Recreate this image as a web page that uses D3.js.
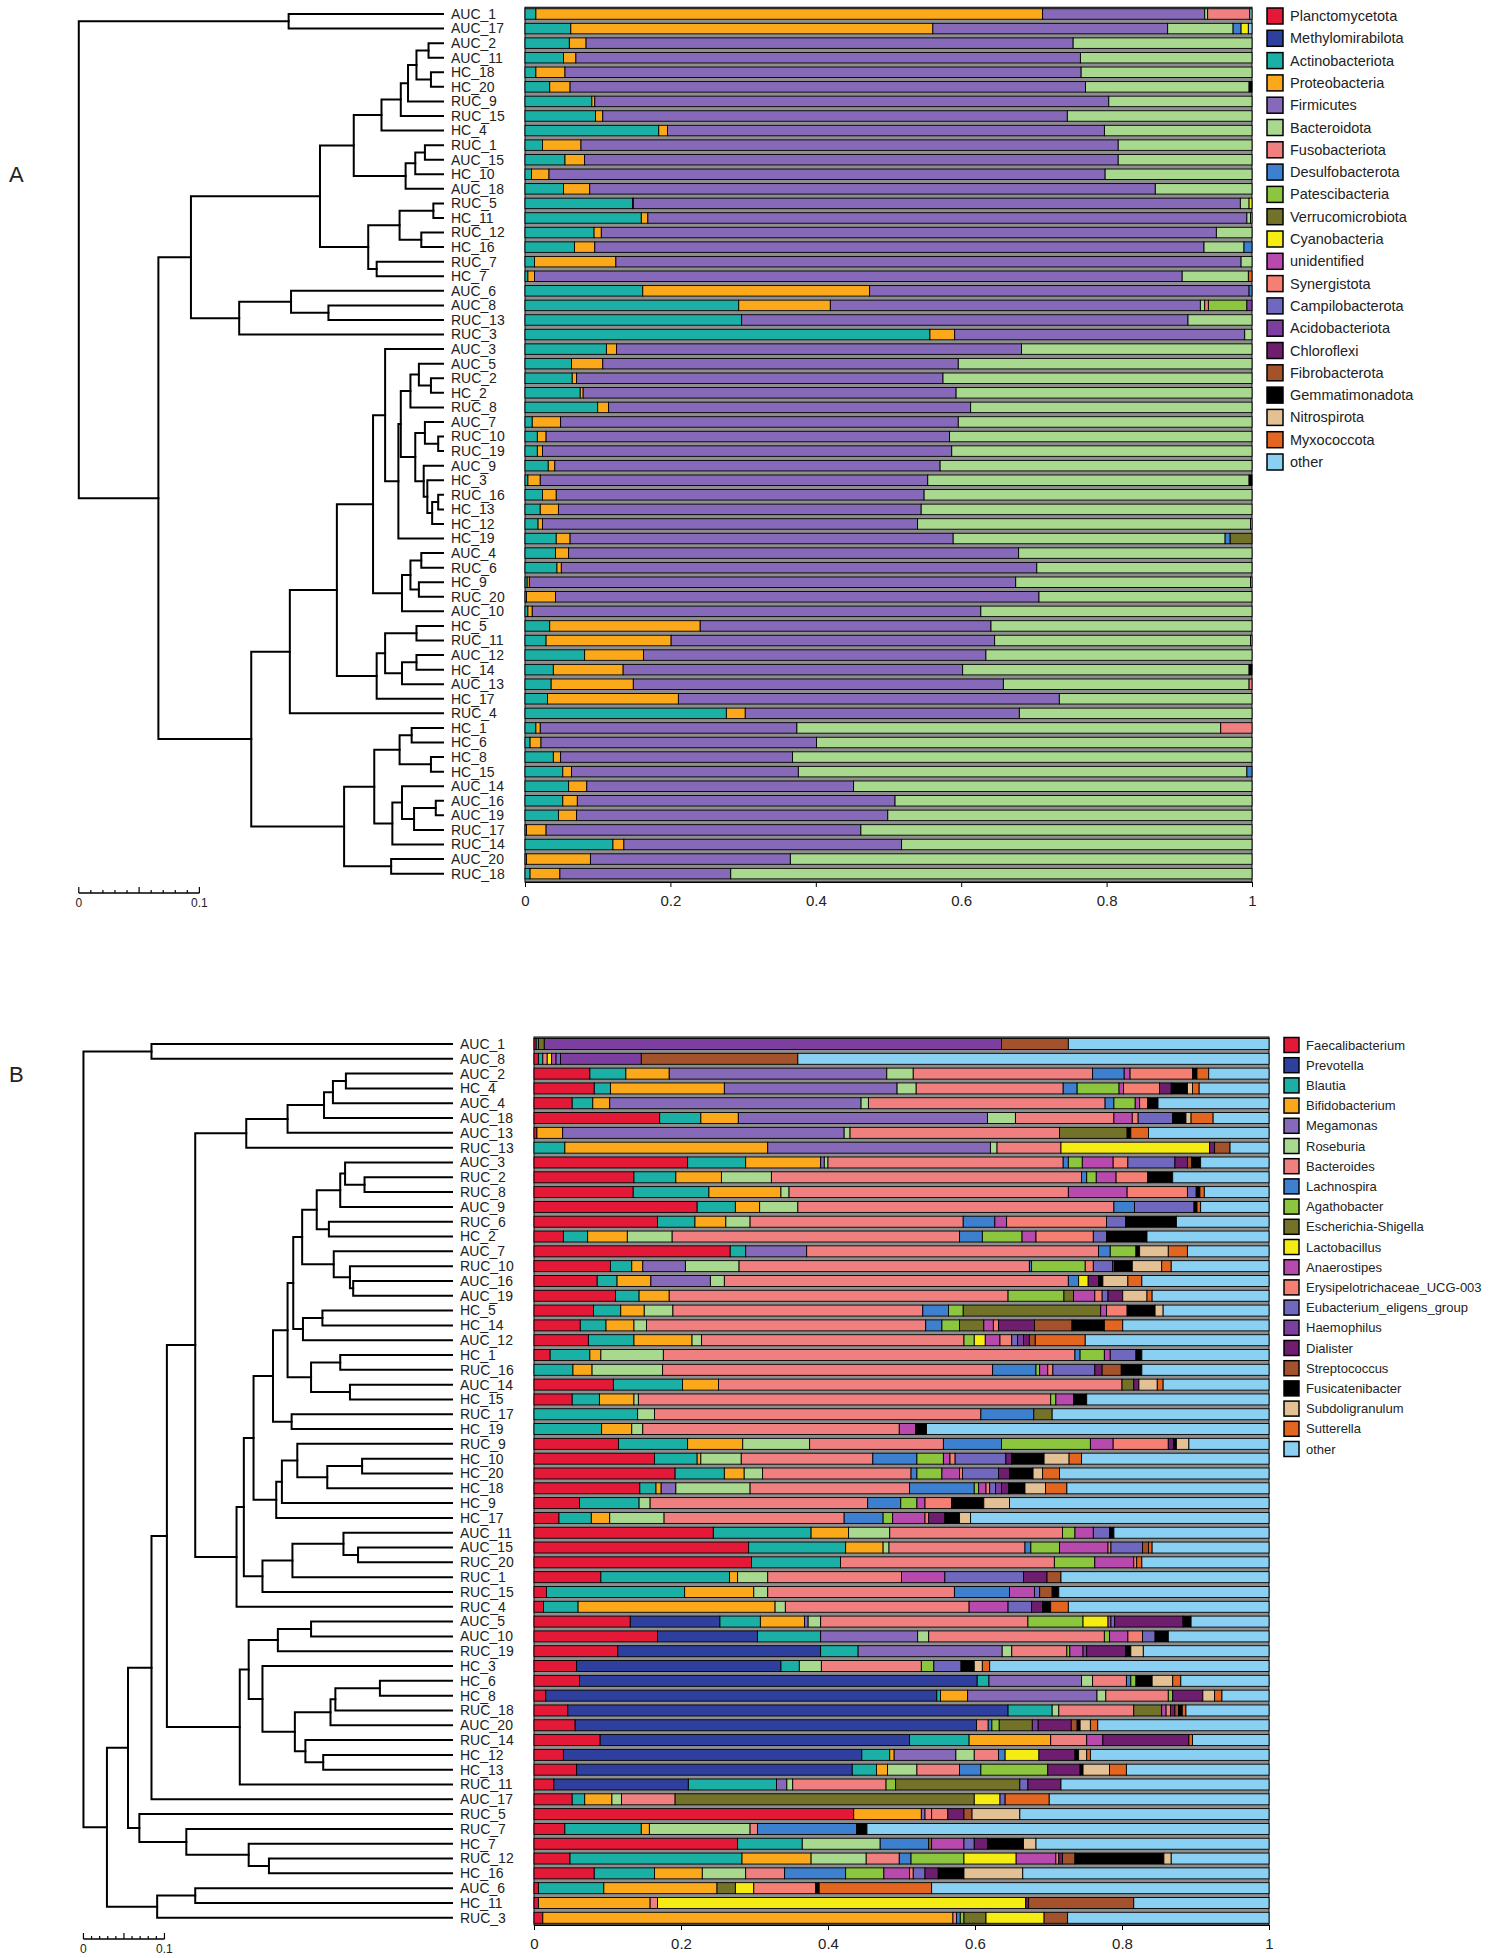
<!DOCTYPE html>
<html lang="en">
<head>
<meta charset="utf-8">
<title>Community composition dendrograms</title>
<script src="https://cdn.jsdelivr.net/npm/d3@7"></script>
<style>
  body { margin: 0; background: #fff; font-family: "Liberation Sans", Arial, sans-serif; }
  text { fill: #222; }
</style>
</head>
<body>
<script>
// ---- data ----
var palette = ["#e31937", "#2e3f9e", "#1bb0a6", "#fba81b", "#8669b8", "#a8d98f", "#f08080",
  "#3d80cf", "#8cc63f", "#727228", "#f5ec13", "#b84aad", "#f47f72", "#7068bf", "#7c3f9f",
  "#6e1d6f", "#a4522b", "#000000", "#e3c195", "#e2661f", "#8ad0f2"];

var taxaA = ["Planctomycetota", "Methylomirabilota", "Actinobacteriota", "Proteobacteria", "Firmicutes",
  "Bacteroidota", "Fusobacteriota", "Desulfobacterota", "Patescibacteria", "Verrucomicrobiota",
  "Cyanobacteria", "unidentified", "Synergistota", "Campilobacterota", "Acidobacteriota", "Chloroflexi",
  "Fibrobacterota", "Gemmatimonadota", "Nitrospirota", "Myxococcota", "other"];

var taxaB = ["Faecalibacterium", "Prevotella", "Blautia", "Bifidobacterium", "Megamonas", "Roseburia",
  "Bacteroides", "Lachnospira", "Agathobacter", "Escherichia-Shigella", "Lactobacillus", "Anaerostipes",
  "Erysipelotrichaceae_UCG-003", "Eubacterium_eligens_group", "Haemophilus", "Dialister",
  "Streptococcus", "Fusicatenibacter", "Subdoligranulum", "Sutterella", "other"];

var axisTicks = [0, 0.2, 0.4, 0.6, 0.8, 1];

var samplesA = ["AUC_1", "AUC_17", "AUC_2", "AUC_11", "HC_18", "HC_20", "RUC_9", "RUC_15", "HC_4", "RUC_1",
  "AUC_15", "HC_10", "AUC_18", "RUC_5", "HC_11", "RUC_12", "HC_16", "RUC_7", "HC_7", "AUC_6", "AUC_8",
  "RUC_13", "RUC_3", "AUC_3", "AUC_5", "RUC_2", "HC_2", "RUC_8", "AUC_7", "RUC_10", "RUC_19", "AUC_9",
  "HC_3", "RUC_16", "HC_13", "HC_12", "HC_19", "AUC_4", "RUC_6", "HC_9", "RUC_20", "AUC_10", "HC_5",
  "RUC_11", "AUC_12", "HC_14", "AUC_13", "HC_17", "RUC_4", "HC_1", "HC_6", "HC_8", "HC_15", "AUC_14",
  "AUC_16", "AUC_19", "RUC_17", "RUC_14", "AUC_20", "RUC_18"];

// relative abundance per sample, columns in taxaA order (trailing zeros left out)
var valuesA = [
  [0,0,.015,.697,.223,.004,.058,0,0,0,0,0,0,0,0,0,0,0,0,0,.003],
  [0,0,.063,.498,.323,.090,0,.011,0,0,.010,0,0,0,0,0,0,0,0,0,.005],
  [0,0,.061,.023,.670,.246],
  [0,0,.053,.017,.694,.236],
  [0,0,.015,.040,.710,.235],
  [0,0,.034,.028,.709,.225,0,0,0,0,0,0,0,0,0,0,0,.004],
  [0,0,.092,.004,.707,.197],
  [0,0,.097,.010,.639,.254],
  [0,0,.184,.012,.601,.203],
  [0,0,.024,.053,.739,.184],
  [0,0,.055,.027,.734,.184],
  [0,0,.009,.024,.765,.202],
  [0,0,.053,.036,.778,.133],
  [0,0,.148,.001,.835,.012,0,0,0,0,.004],
  [0,0,.160,.009,.824,.005,0,0,0,0,0,0,0,0,0,0,0,0,0,0,.002],
  [0,0,.095,.010,.846,.049],
  [0,0,.068,.028,.838,.055,0,.011],
  [0,0,.013,.112,.860,.015],
  [0,0,.004,.009,.891,.091,0,0,0,0,0,0,0,0,0,0,0,0,0,.005],
  [0,0,.162,.312,.522,0,0,.004],
  [0,0,.294,.126,.509,.006,.005,0,.053,0,0,0,0,0,.007],
  [0,0,.298,0,.614,.088],
  [0,0,.557,.034,.399,.010],
  [0,0,.112,.014,.557,.317],
  [0,0,.064,.043,.489,.404],
  [0,0,.065,.006,.504,.425],
  [0,0,.076,.004,.513,.407],
  [0,0,.100,.015,.498,.387],
  [0,0,.010,.039,.547,.404],
  [0,0,.017,.012,.555,.416],
  [0,0,.017,.007,.563,.413],
  [0,0,.032,.009,.530,.429],
  [0,0,.004,.017,.533,.442,0,0,0,0,0,0,0,0,0,0,0,.004],
  [0,0,.024,.019,.506,.451],
  [0,0,.021,.025,.499,.455],
  [0,0,.018,.006,.516,.458,0,0,0,0,0,0,0,0,0,0,0,0,0,0,.002],
  [0,0,.043,.019,.527,.374,0,.007,0,.030],
  [0,0,.042,.018,.619,.321],
  [0,0,.044,.006,.654,.296],
  [0,0,.003,.003,.669,.323,0,0,0,0,0,0,0,0,0,0,0,0,0,0,.002],
  [0,0,.002,.040,.665,.293],
  [0,0,.004,.006,.617,.373],
  [0,0,.034,.207,.400,.359],
  [0,0,.029,.172,.445,.352,0,0,0,0,0,0,0,0,0,0,0,0,0,0,.002],
  [0,0,.082,.081,.471,.366],
  [0,0,.039,.096,.467,.394,0,0,0,0,0,0,0,0,0,0,0,.004],
  [0,0,.036,.113,.509,.338,.004],
  [0,0,.031,.180,.524,.265],
  [0,0,.277,.026,.377,.320],
  [0,0,.015,.006,.353,.583,.043],
  [0,0,.007,.015,.379,.599],
  [0,0,.039,.010,.319,.632],
  [0,0,.052,.012,.312,.617,0,.007],
  [0,0,.060,.025,.367,.548],
  [0,0,.052,.020,.437,.491],
  [0,0,.046,.025,.428,.501],
  [0,0,.002,.027,.433,.538],
  [0,0,.121,.015,.382,.482],
  [0,0,.002,.088,.275,.635],
  [0,0,.007,.041,.235,.717]
];

// tree: [height, child, child, ...], leaves are sample names
var treeA = [0.302,
  [0.128, "AUC_1", "AUC_17"],
  [0.236,
    [0.209,
      [0.102,
        [0.074,
          [0.051,
            [0.035,
              [0.029,
                [0.022, [0.012, "AUC_2", "AUC_11"], [0.010, "HC_18", "HC_20"]],
                "RUC_9"],
              "RUC_15"],
            "HC_4"],
          [0.031,
            [0.023, [0.015, "RUC_1", "AUC_15"], "HC_10"],
            "AUC_18"]],
        [0.062,
          [0.036, [0.008, "RUC_5", "HC_11"], [0.018, "RUC_12", "HC_16"]],
          [0.055, "RUC_7", "HC_7"]]],
      [0.169,
        [0.126, "AUC_6", [0.095, "AUC_8", "RUC_13"]],
        "RUC_3"]],
    [0.159,
      [0.127,
        [0.088,
          [0.058,
            [0.048,
              "AUC_3",
              [0.037,
                [0.035,
                  [0.027, [0.020, "AUC_5", [0.010, "RUC_2", "HC_2"]], "RUC_8"],
                  [0.023,
                    [0.015, "AUC_7", [0.004, "RUC_10", "RUC_19"]],
                    [0.016, "AUC_9", [0.013, "HC_3", [0.009, [0.004, "RUC_16", "HC_13"], "HC_12"]]]]],
                "HC_19"]],
            [0.034,
              [0.027, [0.018, "AUC_4", "RUC_6"], [0.020, "HC_9", "RUC_20"]],
              "AUC_10"]],
          [0.055,
            [0.048,
              [0.022, "HC_5", "RUC_11"],
              [0.034, [0.022, "AUC_12", "HC_14"], "AUC_13"]],
            "HC_17"]],
        "RUC_4"],
      [0.082,
        [0.057,
          [0.036, [0.026, "HC_1", "HC_6"], [0.010, "HC_8", "HC_15"]],
          [0.042, [0.034, "AUC_14", [0.024, [0.006, "AUC_16", "AUC_19"], "RUC_17"]], "RUC_14"]],
        [0.043, "AUC_20", "RUC_18"]]]]];

var samplesB = ["AUC_1", "AUC_8", "AUC_2", "HC_4", "AUC_4", "AUC_18", "AUC_13", "RUC_13", "AUC_3", "RUC_2",
  "RUC_8", "AUC_9", "RUC_6", "HC_2", "AUC_7", "RUC_10", "AUC_16", "AUC_19", "HC_5", "HC_14", "AUC_12",
  "HC_1", "RUC_16", "AUC_14", "HC_15", "RUC_17", "HC_19", "RUC_9", "HC_10", "HC_20", "HC_18", "HC_9",
  "HC_17", "AUC_11", "AUC_15", "RUC_20", "RUC_1", "RUC_15", "RUC_4", "AUC_5", "AUC_10", "RUC_19", "HC_3",
  "HC_6", "HC_8", "RUC_18", "AUC_20", "RUC_14", "HC_12", "HC_13", "RUC_11", "AUC_17", "RUC_5", "RUC_7",
  "HC_7", "RUC_12", "HC_16", "AUC_6", "HC_11", "RUC_3"];

// columns in taxaB order
var valuesB = [
  [.003,0,.003,0,0,0,0,0,0,.008,0,0,0,0,.622,0,.091,0,0,0,.273],
  [.006,0,.006,0,0,0,.006,0,0,0,.006,.006,0,.006,.110,0,.213,0,0,0,.641],
  [.076,0,.049,.059,.296,.036,.244,.043,0,0,0,.008,.085,0,0,0,0,.006,0,.016,.082],
  [.082,0,.022,.155,.235,.026,.200,.019,.057,0,0,.006,.049,0,0,.016,0,.022,.007,.009,.095],
  [.052,0,.028,.023,.342,.010,.322,.012,.029,0,0,.006,.011,0,0,0,0,.014,0,0,.151],
  [.171,0,.056,.051,.339,.038,.134,0,0,0,0,.025,.008,.047,0,0,0,.018,.007,.030,.076],
  [.004,0,0,.035,.383,.008,.285,0,0,.092,0,0,0,0,0,0,0,.005,0,.024,.164],
  [0,0,.042,.276,.303,.009,.087,0,0,0,.202,0,0,0,0,.007,.021,0,0,0,.053],
  [.209,0,.079,.102,.005,.005,.320,.007,.019,0,0,.042,.020,.064,0,.017,.006,.012,0,0,.093],
  [.136,0,.057,.062,0,.068,.422,.007,.013,0,0,.027,.043,0,0,0,0,.034,0,0,.131],
  [.135,0,.103,.098,0,.011,.380,0,0,0,0,.080,.082,.012,0,0,0,.005,0,.006,.088],
  [.222,0,.052,.033,0,.052,.430,.028,0,0,0,0,0,.081,0,0,0,.004,0,.005,.093],
  [.168,0,.051,.042,0,.033,.290,.043,0,0,0,.016,.136,.026,0,0,0,.069,0,0,.126],
  [.040,0,.033,.054,0,.061,.391,.031,.054,0,0,.019,.078,.018,0,0,0,.055,0,0,.166],
  [.267,0,.021,0,.083,0,.397,.016,.035,0,0,0,0,0,0,0,0,.005,.039,.026,.111],
  [.104,0,.029,.015,.058,.073,.395,.003,.073,0,0,0,.011,.026,0,.003,0,.024,.040,.013,.133],
  [.086,0,.027,.046,.081,.019,.468,.014,0,0,.013,0,0,0,0,.014,0,.006,.034,.019,.173],
  [.111,0,.032,.041,0,0,.461,0,.076,.013,0,.029,.010,.008,0,.020,0,0,.033,.007,.159],
  [.081,0,.037,.032,0,.039,.340,.035,.020,.187,0,.008,.028,0,0,0,0,.038,.011,0,.144],
  [.063,0,.035,.038,0,.017,.380,.022,.024,.033,0,.013,.007,0,0,.049,.051,.044,0,.025,.199],
  [.074,0,.062,.079,0,.013,.357,0,.014,0,.015,.020,.016,.008,.008,.008,.008,0,0,.068,.250],
  [.022,0,.054,.015,0,.085,.560,.007,.033,0,0,.008,0,.035,0,0,0,.008,0,0,.173],
  [0,0,.053,.026,0,.096,.449,.059,.005,0,0,.011,.007,.057,0,.010,.026,.028,0,0,.173],
  [.108,0,.094,.049,0,0,.549,0,0,.016,0,0,0,0,0,.007,0,0,.025,.008,.144],
  [.052,0,.037,.047,0,.006,.561,0,.007,0,0,.024,0,0,0,0,0,.018,0,0,.248],
  [0,0,.141,0,0,.023,.444,.072,0,.025,0,0,0,0,0,0,0,0,0,0,.295],
  [0,0,.092,.041,0,.015,.349,0,0,0,0,.022,0,0,0,0,0,.015,0,0,.466],
  [.115,0,.094,.075,0,.091,.182,.079,.121,0,0,.031,.075,0,0,.007,0,.004,.017,0,.109],
  [.164,0,.058,.005,0,.055,.179,.060,.036,0,0,.009,.007,.069,0,.008,0,.044,.034,.017,.255],
  [.192,0,.067,.027,0,.025,.202,.008,.034,0,0,.024,.004,.049,0,.015,0,.032,.013,.023,.285],
  [.144,0,.022,.007,.020,.101,.217,.088,.006,0,0,.010,.005,.008,.008,.010,0,.022,.028,.029,.275],
  [.062,0,.081,0,0,.015,.296,.045,.022,0,0,.011,.036,0,0,0,0,.044,.035,0,.353],
  [.034,0,.044,.025,0,.074,.245,.053,.013,0,0,.044,.005,0,0,.022,0,.020,.015,0,.406],
  [.244,0,.133,.051,0,.056,.235,0,.017,0,0,.025,0,.022,0,0,0,.006,0,0,.211],
  [.292,0,.132,.051,0,.008,.185,.008,.039,0,0,.066,.004,.043,0,0,.008,0,0,.005,.159],
  [.296,0,.121,0,0,0,.291,0,.055,0,0,.053,.004,0,0,0,0,0,0,.007,.173],
  [.091,0,.175,.011,0,.041,.182,0,0,0,0,.059,0,.107,0,.032,.019,0,0,0,.283],
  [.017,0,.188,.094,0,.019,.254,.075,0,0,0,.034,0,.007,0,0,.017,.009,0,0,.286],
  [.013,0,.047,.268,0,.014,.250,0,0,0,0,.053,0,.032,0,.015,0,.011,0,.024,.273],
  [.131,.122,.055,.060,.005,.017,.282,0,.075,0,.034,.004,0,.005,0,.093,0,.011,0,0,.106],
  [.168,.136,.086,0,.132,.015,.239,0,.007,0,0,.025,.020,.017,0,0,0,.018,0,0,.137],
  [.114,.276,.051,0,.196,.013,.075,0,.004,0,0,.018,0,0,.005,.053,0,.007,.017,0,.171],
  [.058,.278,.025,0,0,.030,.136,0,.017,0,0,0,0,.037,0,0,0,.018,.011,.010,.380],
  [.062,.541,.016,0,.126,.015,.046,.006,.007,0,0,0,0,0,0,0,0,.022,.028,.011,.120],
  [.016,.532,.005,.037,.176,.012,.085,0,.006,0,0,0,0,0,0,.041,0,0,.016,.010,.064],
  [.046,.599,.060,0,0,.009,.102,0,0,.038,0,.006,.006,0,0,.006,.005,.005,0,.005,.113],
  [.056,.546,0,0,0,0,.016,.005,.010,.045,0,0,0,0,.008,.045,.008,.004,.014,.010,.233],
  [.090,.421,.081,.111,0,0,.049,0,0,0,0,.022,0,0,0,.117,0,0,0,.005,.104],
  [.040,.406,.038,.006,.084,.025,.033,.009,0,0,.046,0,0,0,0,.049,0,.005,.011,.005,.243],
  [.058,.375,.033,.015,0,.040,.058,.029,.091,0,0,0,0,0,0,.044,0,.004,.036,.023,.194],
  [.027,.183,.120,0,.014,.008,.127,0,.013,.169,0,0,0,.011,0,.045,0,0,0,0,.283],
  [.052,0,.017,.037,0,.013,.073,0,0,.407,.035,0,0,.007,0,0,0,0,0,.060,.299],
  [.435,0,0,.092,.005,0,.009,0,0,0,0,0,.022,0,0,.022,.011,0,.065,0,.339],
  [.042,0,.104,.011,0,.137,.010,.135,0,0,0,0,0,0,0,0,0,.014,0,0,.547],
  [.277,0,.088,0,0,.106,0,.066,0,.004,0,.044,0,.014,0,.018,0,.049,.017,0,.317],
  [.049,0,.234,.094,0,.075,.045,.016,.072,0,.071,.054,.004,0,0,.005,.017,.121,.010,0,.133],
  [.082,0,.082,.065,0,.059,.053,.083,.052,0,0,.035,.005,.016,0,.018,0,.035,.080,0,.335],
  [.006,0,.089,.154,0,0,0,0,0,.025,.025,0,.084,0,0,0,0,.005,0,.153,.459],
  [.006,0,0,.152,0,0,.010,0,0,0,.501,0,0,0,0,.004,.143,0,0,0,.184],
  [.012,0,0,.558,0,0,.005,.005,.005,.030,.079,0,0,0,0,0,.032,0,0,0,.274]
];

var treeB = [0.455,
  [0.371, "AUC_1", "AUC_8"],
  [0.426,
    [0.400,
      [0.371,
        [0.352,
          [0.317,
            [0.254,
              [0.203,
                [0.158, [0.147, [0.131, "AUC_2", "HC_4"], "AUC_4"], "AUC_18"],
                "AUC_13"],
              "RUC_13"],
            [0.266,
              [0.257,
                [0.245,
                  [0.221,
                    [0.203,
                      [0.196,
                        [0.185,
                          [0.167,
                            [0.138, [0.132, "AUC_3", [0.108, "RUC_2", "RUC_8"]], "AUC_9"],
                            [0.152, "RUC_6", "HC_2"]],
                          [0.146, "AUC_7", [0.126, "RUC_10", [0.122, "AUC_16", "AUC_19"]]]],
                        [0.184, [0.160, "HC_5", "HC_14"], "AUC_12"]],
                      [0.174, [0.138, "HC_1", "RUC_16"], [0.126, "AUC_14", "HC_15"]]],
                    [0.198, "RUC_17", "HC_19"]],
                  [0.217,
                    [0.210,
                      [0.191, "RUC_9", [0.154, [0.111, "HC_10", "HC_20"], "HC_18"]],
                      "HC_9"],
                    "HC_17"]],
                [0.234,
                  [0.197, [0.134, "AUC_11", [0.116, "AUC_15", "RUC_20"]], "RUC_1"],
                  "RUC_15"]],
              "RUC_4"]],
          [0.262,
            [0.251,
              [0.215, [0.174, "AUC_5", "AUC_10"], "RUC_19"],
              [0.234, "HC_3",
                [0.194,
                  [0.150, [0.144, [0.089, "HC_6", "HC_8"], "RUC_18"], "AUC_20"],
                  [0.181, "RUC_14", [0.159, "HC_12", "HC_13"]]]]],
            "RUC_11"]],
        "AUC_17"],
      [0.386, "RUC_5", [0.328, "RUC_7", [0.251, "HC_7", [0.226, "RUC_12", "HC_16"]]]]],
    [0.364, [0.317, "AUC_6", "HC_11"], "RUC_3"]]];

// ---- drawing ----
var width = 1490, height = 1958;
var svg = d3.select("body").append("svg")
  .attr("width", width)
  .attr("height", height);

function drawPanel(p) {
  var g = svg.append("g");
  var n = p.samples.length;

  var y = d3.scalePoint()
    .domain(p.samples)
    .range([p.top, p.top + (n - 1) * p.pitch]);
  var x = d3.scaleLinear().domain([0, 1]).range([p.x0, p.x1]);

  var rows = p.values.map(function(v, i) { return { name: p.samples[i], v: v }; });
  var series = d3.stack()
    .keys(d3.range(p.taxa.length))
    .value(function(d, k) { return d.v[k] || 0; })
    .offset(d3.stackOffsetExpand)(rows);

  // grey frame behind the bars
  var bgTop = y(p.samples[0]) - p.barH / 2 - 1.5;
  g.append("rect")
    .attr("x", p.x0).attr("y", bgTop)
    .attr("width", p.x1 - p.x0).attr("height", p.axisY - bgTop)
    .attr("fill", "#8e8e8e")
    .attr("stroke", "#000").attr("stroke-width", 1);

  series.forEach(function(s) {
    g.append("g")
      .attr("fill", palette[s.key])
      .selectAll("rect")
      .data(s.filter(function(d) { return d[1] - d[0] > 0; }))
      .join("rect")
      .attr("x", function(d) { return x(d[0]); })
      .attr("width", function(d) { return x(d[1]) - x(d[0]); })
      .attr("y", function(d) { return y(d.data.name) - p.barH / 2; })
      .attr("height", p.barH)
      .attr("stroke", "#000")
      .attr("stroke-width", 0.9);
  });

  // x axis
  var ax = g.append("g")
    .attr("transform", "translate(0," + p.axisY + ")")
    .call(d3.axisBottom(x).tickValues(axisTicks).tickFormat(d3.format("~g"))
      .tickSize(5).tickSizeOuter(0).tickPadding(8));
  ax.attr("font-size", 15).attr("font-family", "Liberation Sans, Arial, sans-serif");
  ax.selectAll("text").attr("fill", "#222");

  // sample labels
  g.append("g").selectAll("text")
    .data(p.samples)
    .join("text")
    .attr("x", p.labelX)
    .attr("y", function(d) { return y(d); })
    .attr("dy", "0.35em")
    .attr("font-size", 14)
    .text(function(d) { return d; });

  // dendrogram
  var root = d3.hierarchy(p.tree, function(d) { return Array.isArray(d) ? d.slice(1) : null; });
  root.eachAfter(function(nd) {
    if (!nd.children) {
      nd.px = p.leafX;
      nd.py = y(nd.data);
    } else {
      nd.px = p.leafX - nd.data[0] * p.unit;
      nd.py = (nd.children[0].py + nd.children[nd.children.length - 1].py) / 2;
    }
  });
  g.append("g").selectAll("path")
    .data(root.descendants().filter(function(nd) { return nd.children; }))
    .join("path")
    .attr("fill", "none")
    .attr("stroke", "#000")
    .attr("stroke-width", 2)
    .attr("stroke-linecap", "square")
    .attr("d", function(nd) {
      var c = nd.children;
      var s = "M" + nd.px + "," + c[0].py + "V" + c[c.length - 1].py;
      c.forEach(function(ch) { s += "M" + nd.px + "," + ch.py + "H" + ch.px; });
      return s;
    });

  // distance scale bar
  var sb = d3.scaleLinear().domain([0, 0.1]).range([root.px, root.px + 0.1 * p.unit]);
  var bar = g.append("g").attr("stroke", "#000");
  bar.append("line")
    .attr("x1", sb(0)).attr("x2", sb(0.1))
    .attr("y1", p.scaleY).attr("y2", p.scaleY)
    .attr("stroke-width", 1.5);
  bar.selectAll("line.t")
    .data(d3.range(0, 11))
    .join("line")
    .attr("class", "t")
    .attr("x1", function(i) { return sb(i / 100); })
    .attr("x2", function(i) { return sb(i / 100); })
    .attr("y1", p.scaleY)
    .attr("y2", function(i) { return p.scaleY - (i % 5 === 0 ? 6 : 3); })
    .attr("stroke-width", 1.2);
  g.append("g").selectAll("text")
    .data([0, 0.1])
    .join("text")
    .attr("x", function(d) { return sb(d); })
    .attr("y", p.scaleY + 14)
    .attr("text-anchor", "middle")
    .attr("font-size", 12)
    .text(function(d) { return d3.format("~g")(d); });

  // panel letter
  g.append("text")
    .attr("x", 9).attr("y", p.letterY)
    .attr("dy", "0.35em")
    .attr("font-size", 22)
    .text(p.letter);

  // legend
  var lg = g.append("g").selectAll("g")
    .data(p.taxa)
    .join("g")
    .attr("transform", function(d, i) { return "translate(" + p.legendX + "," + (p.legendY + i * p.legendStep) + ")"; });
  lg.append("rect")
    .attr("x", 0).attr("y", -p.legendBox / 2)
    .attr("width", p.legendBox).attr("height", p.legendBox)
    .attr("fill", function(d, i) { return palette[i]; })
    .attr("stroke", "#000").attr("stroke-width", 1.5);
  lg.append("text")
    .attr("x", p.legendBox + 7)
    .attr("dy", "0.35em")
    .attr("font-size", p.legendFont)
    .text(function(d) { return d; });
}

drawPanel({
  samples: samplesA, values: valuesA, taxa: taxaA, tree: treeA,
  top: 14, pitch: 14.57, barH: 10.5,
  x0: 525, x1: 1252, axisY: 882,
  leafX: 443, unit: 1206, labelX: 451, scaleY: 893,
  letter: "A", letterY: 174,
  legendX: 1267, legendY: 16, legendStep: 22.3, legendBox: 16, legendFont: 14.5
});

drawPanel({
  samples: samplesB, values: valuesB, taxa: taxaB, tree: treeB,
  top: 1044, pitch: 14.81, barH: 11,
  x0: 534, x1: 1269, axisY: 1925,
  leafX: 452, unit: 810, labelX: 460, scaleY: 1939,
  letter: "B", letterY: 1074,
  legendX: 1284, legendY: 1045, legendStep: 20.2, legendBox: 15, legendFont: 13
});
</script>
</body>
</html>
